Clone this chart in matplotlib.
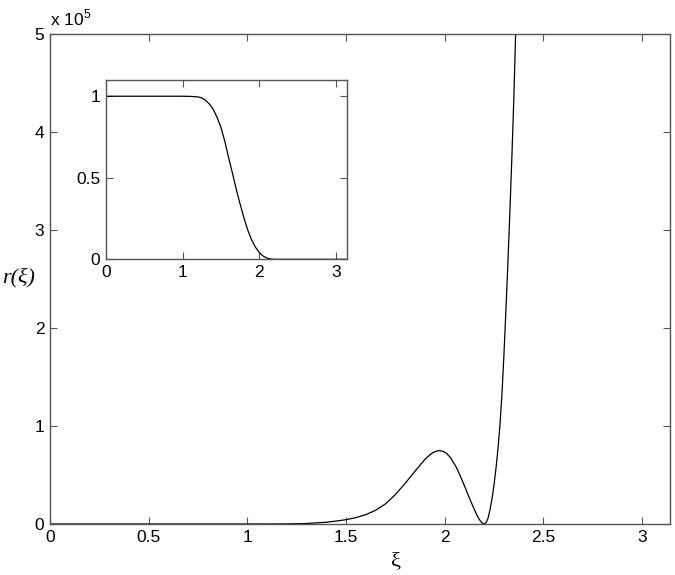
import numpy as np
from matplotlib import pyplot as plt

# main curve r(xi)
xi_main = [0, 0.5, 1.0, 1.1, 1.2, 1.3, 1.4, 1.45, 1.5, 1.55, 1.6, 1.65, 1.7,
           1.75, 1.8, 1.85, 1.875, 1.9, 1.93, 1.95, 1.97, 1.99, 2.01, 2.03,
           2.06, 2.08, 2.1, 2.12, 2.14, 2.16, 2.17, 2.18, 2.19, 2.2, 2.21,
           2.22, 2.23, 2.24, 2.25, 2.26, 2.27, 2.28, 2.29, 2.3, 2.31, 2.32,
           2.33, 2.34, 2.35, 2.36, 2.37]
r_main = [0, 0, 0, 30, 100, 500, 1800, 3000, 4400, 6500, 9500, 14000, 20500,
          30000, 41500, 54000, 60000, 66000, 71500, 73800, 74900, 74300,
          72000, 67500, 57500, 48500, 39000, 29000, 19500, 10500, 6500, 3300,
          900, 0, 1500, 6000, 15000, 26000, 40000, 57000, 77000, 101000,
          132000, 172000, 217000, 265000, 317000, 372000, 432000, 505000,
          570000]

# inset curve
xi_inset = [0, 0.5, 1.0, 1.1, 1.2, 1.25, 1.3, 1.35, 1.4, 1.45, 1.5, 1.55,
            1.6, 1.65, 1.7, 1.75, 1.8, 1.85, 1.9, 1.95, 2.0, 2.05, 2.1,
            2.15, 2.2, 2.5, 3.0, np.pi]
r_inset = [1, 1, 1, 0.999, 0.996, 0.99, 0.975, 0.952, 0.92, 0.87, 0.81,
           0.725, 0.625, 0.53, 0.43, 0.34, 0.255, 0.18, 0.12, 0.075, 0.042,
           0.02, 0.008, 0.002, 0, 0, 0, 0]

plt.rcParams['font.family'] = 'Liberation Sans'
plt.rcParams['font.size'] = 12.5
spine_col = '#555555'

fig = plt.figure(figsize=(6.75, 5.75), dpi=100)
ax = fig.add_axes([0.074, 0.0887, 0.9186, 0.8522])
ax.plot(xi_main, r_main, color='black', lw=0.9)
ax.set_xlim(0, np.pi)
ax.set_ylim(0, 5e5)
ax.set_xticks([0, 0.5, 1, 1.5, 2, 2.5, 3])
ax.set_xticklabels(['0', '0.5', '1', '1.5', '2', '2.5', '3'])
ax.set_yticks([0, 1e5, 2e5, 3e5, 4e5, 5e5])
ax.set_yticklabels(['0', '1', '2', '3', '4', '5'])
ax.text(0.0, 1.012, r'x 10$^{\mathregular{5}}$', transform=ax.transAxes,
        ha='left', va='bottom', fontsize=12.5)
ax.set_xlabel('ξ', family='Liberation Serif', fontsize=16, va='center')
ax.xaxis.set_label_coords(0.558, -0.076)
ax.set_ylabel('r(ξ)', family='Liberation Serif', style='italic',
              fontsize=16, rotation=0, ha='right', va='center')
ax.yaxis.set_label_coords(-0.024, 0.503)

axin = fig.add_axes([0.157, 0.549, 0.3566, 0.312])
axin.plot(xi_inset, r_inset, color='black', lw=0.9)
axin.set_xlim(0, np.pi)
axin.set_ylim(0, 1.1)
axin.set_xticks([0, 1, 2, 3])
axin.set_yticks([0, 0.5, 1])
axin.set_yticklabels(['0', '0.5', '1'])

for a in (ax, axin):
    a.tick_params(direction='in', top=True, right=True, length=5,
                  width=0.8, color=spine_col, pad=4, labelsize=12.5)
    for s in a.spines.values():
        s.set_color(spine_col)
        s.set_linewidth(1.0)

fig.savefig('out.png', dpi=100)
